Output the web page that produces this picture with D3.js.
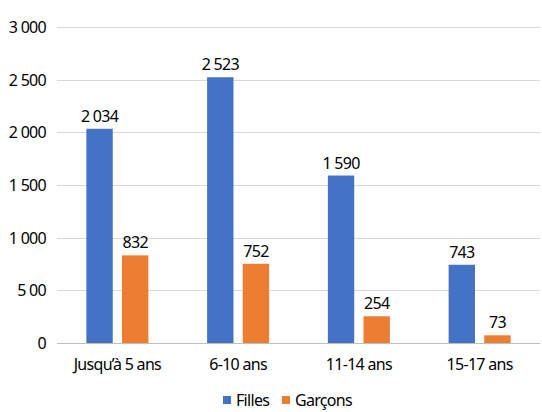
<!DOCTYPE html>
<html>
<head>
<meta charset="utf-8">
<script src="https://cdn.jsdelivr.net/npm/d3@7"></script>
<style>
  body { margin: 0; background: #fff; }
  text { font-family: "Noto Sans", sans-serif; fill: #000; font-size: 16px; letter-spacing: -0.7px; }
</style>
</head>
<body>
<div id="chart"></div>
<script>
// age groups and values
var categories = ["Jusqu\u2019à 5 ans", "6-10 ans", "11-14 ans", "15-17 ans"];
var series = ["Filles", "Garçons"];
var filles = [2034, 2523, 1590, 743];
var garcons = [832, 752, 254, 73];
var yTicks = [0, 500, 1000, 1500, 2000, 2500, 3000];
var yTickLabels = ["0", "5 00", "1 000", "1 500", "2 000", "2 500", "3 000"];
var colors = ["#4472C4", "#ED7D31"];

var width = 542, height = 412;
var margin = { top: 27, right: 2, bottom: 69, left: 57 };

var svg = d3.select("#chart").append("svg")
  .attr("width", width)
  .attr("height", height);

var x = d3.scaleBand()
  .domain(categories)
  .range([margin.left, width - margin.right])
  .paddingInner(0).paddingOuter(0);

var x1 = d3.scaleBand()
  .domain(series)
  .range([0, 62])
  .paddingInner(0.26);

var y = d3.scaleLinear()
  .domain([0, 3000])
  .range([height - margin.bottom, margin.top]);

var fmt = function (v) { return d3.format(",")(v).replace(/,/g, " "); };

// gridlines
svg.append("g").selectAll("line")
  .data(yTicks)
  .join("line")
  .attr("x1", margin.left)
  .attr("x2", width - margin.right)
  .attr("y1", d => Math.round(y(d)) + 0.5)
  .attr("y2", d => Math.round(y(d)) + 0.5)
  .attr("stroke", d => d === 0 ? "#bfbfbf" : "#d9d9d9")
  .attr("stroke-width", 1);

// y labels
svg.append("g").selectAll("text")
  .data(yTicks)
  .join("text")
  .attr("x", 46)
  .attr("y", d => y(d) + 6)
  .attr("text-anchor", "end")
  .text((d, i) => yTickLabels[i]);

var rows = categories.map((c, i) => ({ cat: c, values: [filles[i], garcons[i]] }));

var groups = svg.append("g").selectAll("g")
  .data(rows)
  .join("g")
  .attr("transform", d => "translate(" + (x(d.cat) + x.bandwidth() / 2 - 31) + ",0)");

groups.selectAll("rect")
  .data(d => d.values.map((v, j) => ({ s: series[j], v: v, j: j })))
  .join("rect")
  .attr("x", d => x1(d.s))
  .attr("width", x1.bandwidth())
  .attr("y", d => y(d.v))
  .attr("height", d => y(0) - y(d.v))
  .attr("fill", d => colors[d.j]);

groups.selectAll("text.val")
  .data(d => d.values.map((v, j) => ({ s: series[j], v: v, j: j })))
  .join("text")
  .attr("class", "val")
  .attr("x", d => x1(d.s) + x1.bandwidth() / 2)
  .attr("y", d => y(d.v) - 7)
  .attr("text-anchor", "middle")
  .text(d => fmt(d.v));

// category labels
svg.append("g").selectAll("text")
  .data(categories)
  .join("text")
  .attr("x", d => x(d) + x.bandwidth() / 2)
  .attr("y", 370)
  .attr("text-anchor", "middle")
  .text(d => d);

// legend
var legend = svg.append("g");
var legendX = [223, 282];
series.forEach(function (s, i) {
  legend.append("rect")
    .attr("x", legendX[i])
    .attr("y", 396)
    .attr("width", 8)
    .attr("height", 8)
    .attr("fill", colors[i]);
  legend.append("text")
    .attr("x", legendX[i] + 13)
    .attr("y", 406)
    .text(s);
});
</script>
</body>
</html>
